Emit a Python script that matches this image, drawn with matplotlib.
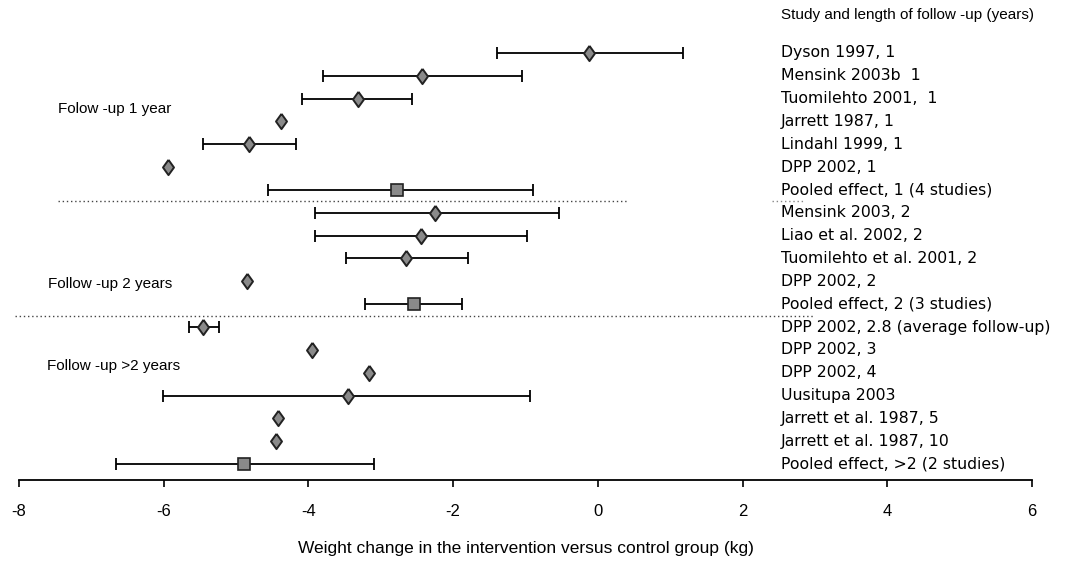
import matplotlib
matplotlib.use("Agg")
import matplotlib.pyplot as plt
import matplotlib.transforms as mtransforms

plt.rcParams['font.family'] = ['Liberation Sans', 'DejaVu Sans']

labels = [
    "Dyson 1997, 1", "Mensink 2003b  1", "Tuomilehto 2001,  1", "Jarrett 1987, 1",
    "Lindahl 1999, 1", "DPP 2002, 1", "Pooled effect, 1 (4 studies)",
    "Mensink 2003, 2", "Liao et al. 2002, 2", "Tuomilehto et al. 2001, 2",
    "DPP 2002, 2", "Pooled effect, 2 (3 studies)",
    "DPP 2002, 2.8 (average follow-up)", "DPP 2002, 3", "DPP 2002, 4",
    "Uusitupa 2003", "Jarrett et al. 1987, 5", "Jarrett et al. 1987, 10",
    "Pooled effect, >2 (2 studies)",
]
estimates = [-0.12, -2.43, -3.32, -4.38, -4.82, -5.94, -2.78,
             -2.25, -2.45, -2.65, -4.85, -2.54,
             -5.46, -3.95, -3.16, -3.45, -4.42, -4.45, -4.89]
lower = [-1.40, -3.80, -4.09, None, -5.46, None, -4.56,
         -3.91, -3.91, -3.48, None, -3.22,
         -5.65, None, None, -6.01, None, None, -6.66]
upper = [1.17, -1.05, -2.57, None, -4.17, None, -0.90,
         -0.54, -0.98, -1.80, None, -1.88,
         -5.24, None, None, -0.94, None, None, -3.10]
pooled = [False, False, False, False, False, False, True,
          False, False, False, False, True,
          False, False, False, False, False, False, True]
group_labels = ["Folow -up 1 year", "Follow -up 2 years", "Follow -up >2 years"]
group_rows = [2.45, 10.1, 13.7]
separator_rows = [6.5, 11.5]
xticks = [-8, -6, -4, -2, 0, 2, 4, 6]

diamond = [(0, 1), (0.72, 0), (0, -1), (-0.72, 0), (0, 1)]

fig = plt.figure(figsize=(10.67, 5.62), dpi=100)
ax = fig.add_axes([19/1067, 82/562, 1013/1067, 480/562])

for i, (est, lo, hi, pl) in enumerate(zip(estimates, lower, upper, pooled)):
    if lo is not None:
        ax.errorbar(est, i, xerr=[[est - lo], [hi - est]], fmt='none',
                    ecolor='black', elinewidth=1.3, capsize=4.5, capthick=1.3, zorder=2)
    if pl:
        ax.plot(est, i, marker='s', markersize=8.5, markerfacecolor='#8a8a8a',
                markeredgecolor='#222222', markeredgewidth=1.2, zorder=3)
    else:
        ax.plot(est, i, marker=diamond, markersize=11, markerfacecolor='#8a8a8a',
                markeredgecolor='#222222', markeredgewidth=1.4, zorder=3)

ax.set_xlim(-8, 6)
ax.set_ylim(18.7, -2.32)
ax.set_xticks(xticks)
ax.set_xticklabels([str(t) for t in xticks], fontsize=12)
ax.set_yticks([])
for s in ['top', 'right', 'left']:
    ax.spines[s].set_visible(False)
ax.spines['bottom'].set_linewidth(1.3)
ax.tick_params(axis='x', direction='out', length=5, width=1.2, pad=12)
ax.set_xlabel("Weight change in the intervention versus control group (kg)",
              fontsize=12.5, labelpad=16)

trans = mtransforms.blended_transform_factory(ax.transAxes, ax.transData)
for i, lab in enumerate(labels):
    ax.text(0.752, i, lab, transform=trans, fontsize=11.3, va='center', ha='left',
            family=['DejaVu Sans'])
ax.text(0.752, -1.66, "Study and length of follow -up (years)", transform=trans,
        fontsize=11, va='center', ha='left')
ax.text(0.0385, group_rows[0], group_labels[0], transform=trans, fontsize=11, va='center')
ax.text(0.029, group_rows[1], group_labels[1], transform=trans, fontsize=11, va='center')
ax.text(0.028, group_rows[2], group_labels[2], transform=trans, fontsize=11, va='center')

ax.plot([0.0385, 0.601], [separator_rows[0]] * 2, transform=trans, color='#444444',
        linestyle=(0, (1, 2)), linewidth=1, clip_on=False)
ax.plot([0.743, 0.776], [separator_rows[0]] * 2, transform=trans, color='#888888',
        linestyle=(0, (1, 2)), linewidth=1, clip_on=False)
ax.plot([-0.004, 0.786], [separator_rows[1]] * 2, transform=trans, color='#444444',
        linestyle=(0, (1, 2)), linewidth=1, clip_on=False)

fig.savefig("out.png", dpi=100)
